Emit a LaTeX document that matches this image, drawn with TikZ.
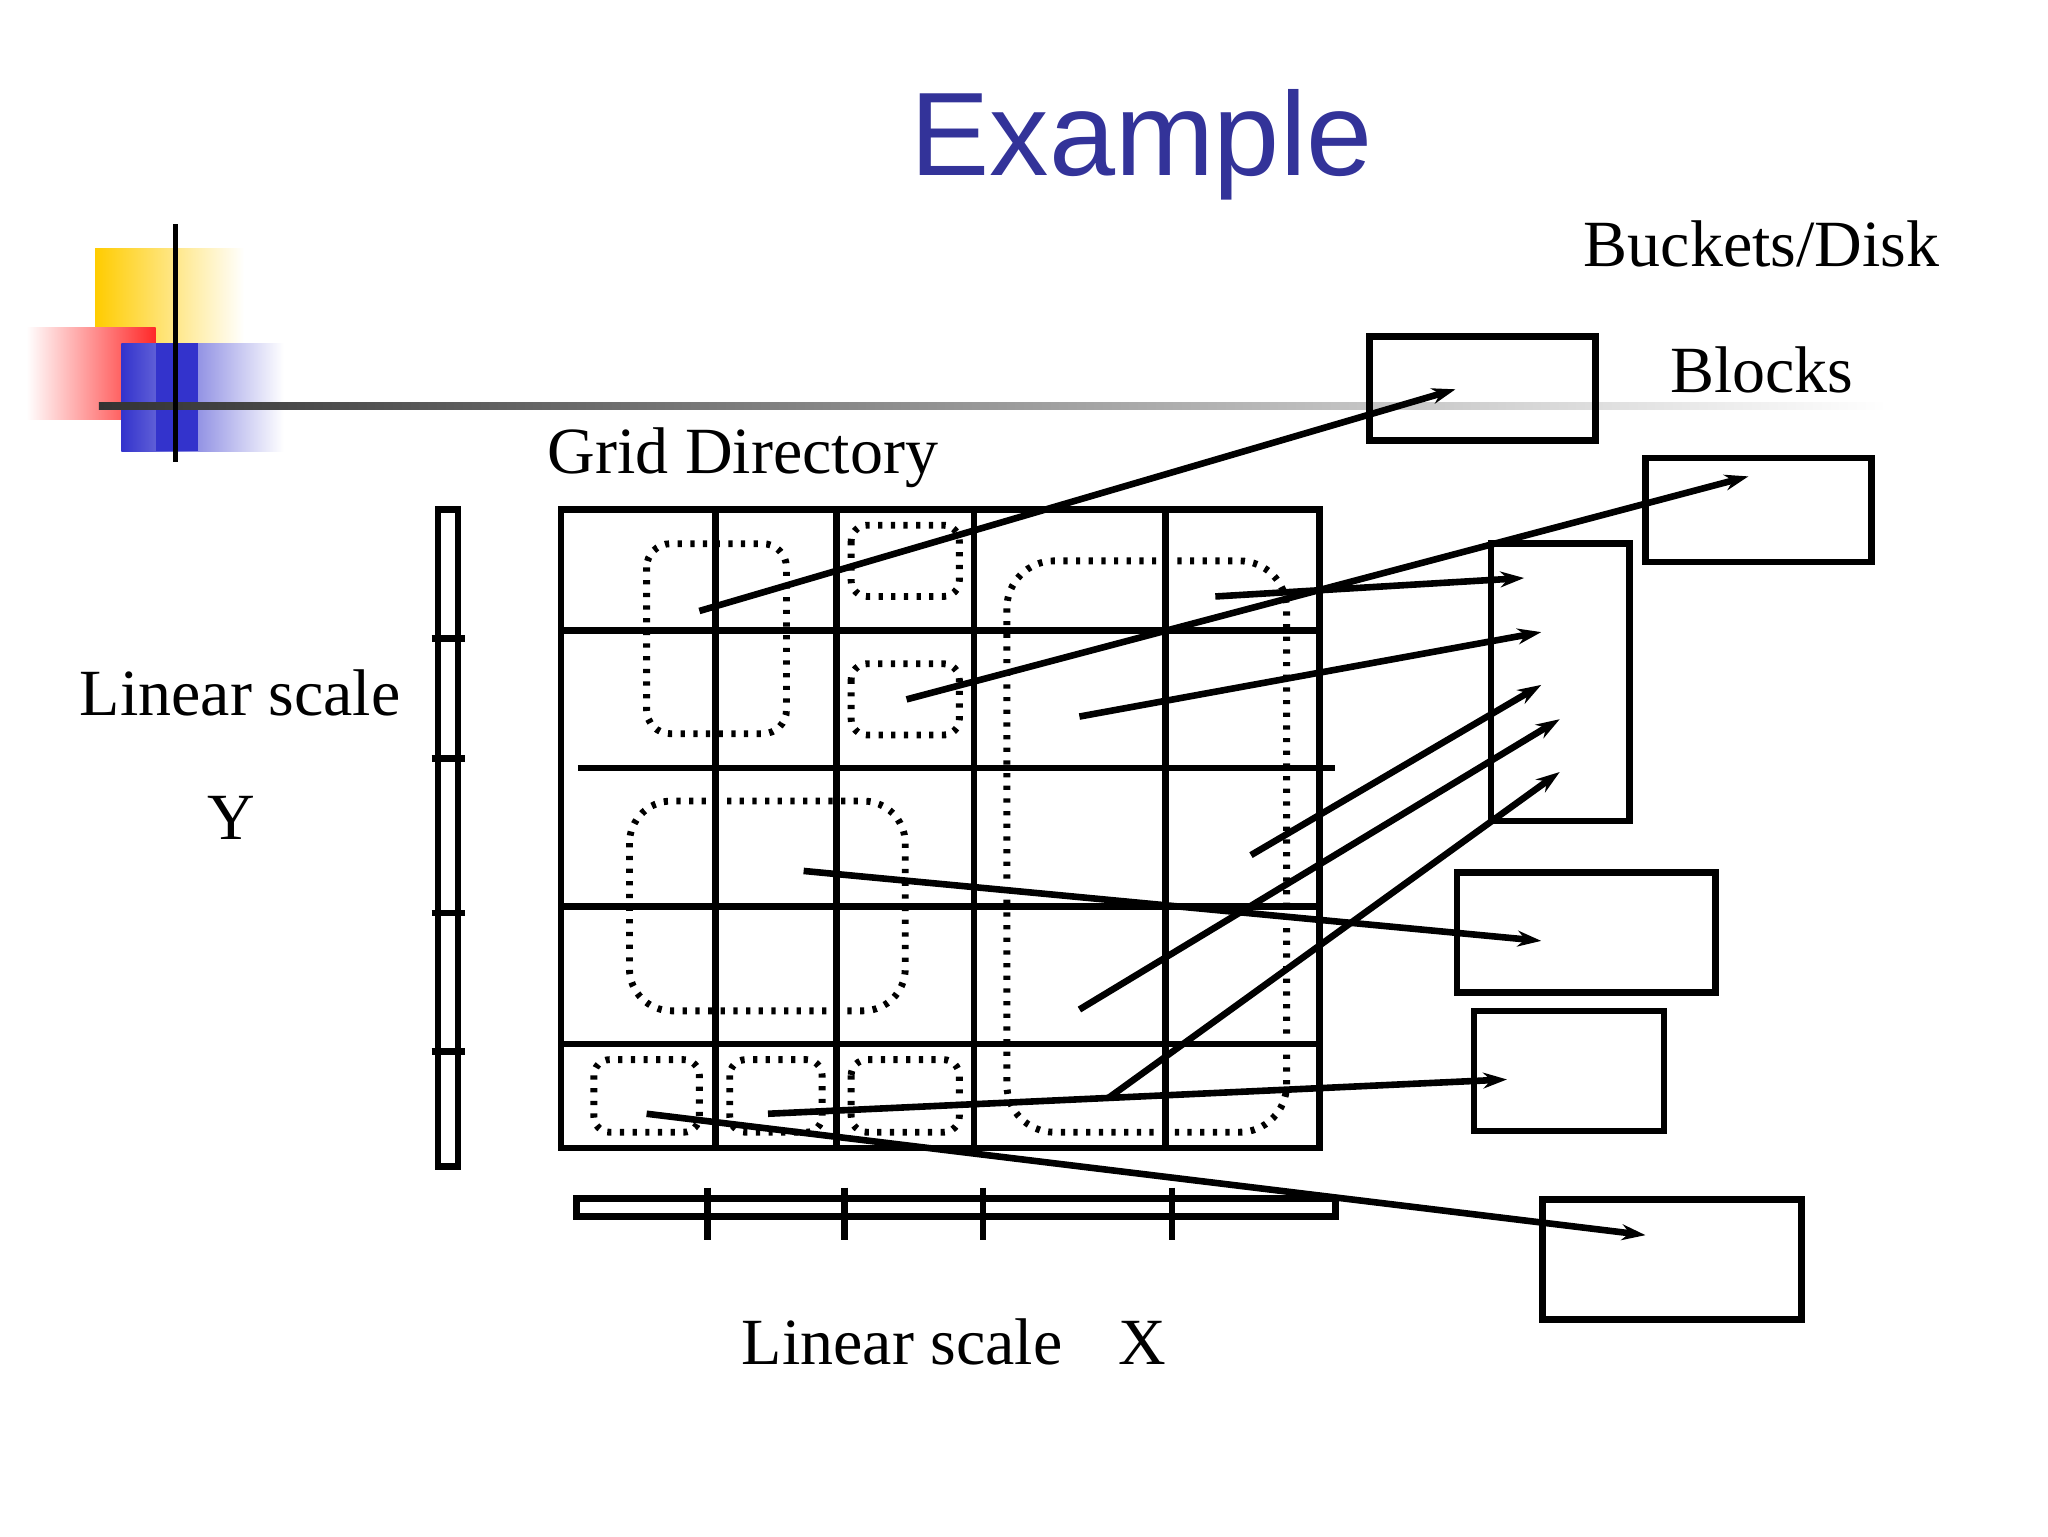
\documentclass[tikz,border=0pt]{standalone}
\usepackage{fontspec}
\setmainfont{Liberation Serif}
\newfontfamily\titlefont{Liberation Sans}
\usetikzlibrary{arrows.meta}
\definecolor{ttl}{RGB}{51,51,153}
\definecolor{ylw}{RGB}{255,204,0}
\definecolor{rd}{RGB}{255,40,40}
\definecolor{bl}{RGB}{51,51,204}
\begin{document}
\begin{tikzpicture}[x=0.5pt,y=-0.5pt,
  thick line/.style={line width=2.5pt},
  dots/.style={line width=2.6pt,dash pattern=on 1.6pt off 3.2pt,rounded corners=9pt},
  bucket/.style={draw,line width=2.5pt},
  arr/.style={line width=2.5pt,-{Stealth[length=9pt,width=6pt]}},
  lbl/.style={font=\fontsize{25}{28}\selectfont,inner sep=0pt}]
\useasboundingbox (0,0) rectangle (1552,1164);
% logo
\shade[left color=ylw,right color=white] (72,188) rectangle (185,260);
\shade[left color=white,right color=rd] (20,248) rectangle (118,318);
\shade[left color=bl,right color=white] (92,260) rectangle (215,342);
\fill[bl] (118,260) rectangle (150,342);
\shade[left color=black!80,right color=white] (75,305) rectangle (1430,310);
\draw[line width=1.8pt] (133,170) -- (133,350);
\node[text=ttl,font=\titlefont\fontsize{45}{50}\selectfont] (title) at (865,110) {Example};
% grid
\draw[thick line] (425,386) rectangle (1000,870);
\foreach \x in {542,634,738,883} \draw[thick line] (\x,386) -- (\x,870);
\foreach \y in {478,687,791} \draw[thick line] (425,\y) -- (1000,\y);
\draw[thick line] (438,582) -- (1012,582);
% scales
\draw[thick line] (332,386) rectangle (347,884);
\foreach \y in {484,575,692,797} \draw[thick line] (327,\y) -- (352,\y);
\draw[thick line] (437,908) rectangle (1012,922);
\foreach \x in {536,640,745,888} \draw[thick line] (\x,900) -- (\x,940);
% regions
\draw[dots] (490,412) rectangle (596,556);
\draw[dots,rounded corners=6pt] (645,398) rectangle (727,452);
\draw[dots,rounded corners=6pt] (645,503) rectangle (727,557);
\draw[dots,rounded corners=16pt] (477,607) rectangle (686,766);
\draw[dots,rounded corners=18pt] (763,425) rectangle (975,858);
\draw[dots,rounded corners=6pt] (450,803) rectangle (530,858);
\draw[dots,rounded corners=6pt] (553,803) rectangle (623,858);
\draw[dots,rounded corners=6pt] (645,803) rectangle (727,858);
% buckets
\node[bucket,minimum width=85.5pt,minimum height=39.5pt] (b1) at (1123.5,294.5) {};
\node[bucket,minimum width=85.5pt,minimum height=39.5pt] (b2) at (1332.5,386.5) {};
\node[bucket,minimum width=52.5pt,minimum height=105pt] (b3) at (1182.5,517) {};
\node[bucket,minimum width=98pt,minimum height=45.5pt] (b4) at (1202,706.5) {};
\node[bucket,minimum width=72pt,minimum height=45.5pt] (b5) at (1189,811.5) {};
\node[bucket,minimum width=98pt,minimum height=45.5pt] (b6) at (1267,954.5) {};
% arrow ends
\coordinate (s1) at (530,463); \coordinate (e1) at (1103,295);
\coordinate (s2) at (687,530); \coordinate (e2) at (1325,361);
\coordinate (s3) at (921,452); \coordinate (e3) at (1155,438);
\coordinate (s4) at (818,543); \coordinate (e4) at (1168,479);
\coordinate (s5) at (948,648); \coordinate (e5) at (1168,519);
\coordinate (s6) at (818,765); \coordinate (e6) at (1182,545);
\coordinate (s7) at (840,832); \coordinate (e7) at (1182,585);
\coordinate (s8) at (609,660); \coordinate (e8) at (1168,713);
\coordinate (s9) at (582,844); \coordinate (e9) at (1142,818);
\coordinate (s10) at (490,844); \coordinate (e10) at (1247,936);
\foreach \i in {1,...,10} \draw[arr] (s\i) -- (e\i);
% labels
\node[lbl] (t1) at (1335,185) {Buckets/Disk};
\node[lbl] (t2) at (1335,280) {Blocks};
\node[lbl] (t3) at (563,347) {Grid Directory};
\node[lbl] (t4) at (182,525) {Linear scale};
\node[lbl] (t5) at (175,620) {Y};
\node[lbl] (t6) at (723,1017) {Linear scale\hspace{0.6em} X};
\end{tikzpicture}
\end{document}
